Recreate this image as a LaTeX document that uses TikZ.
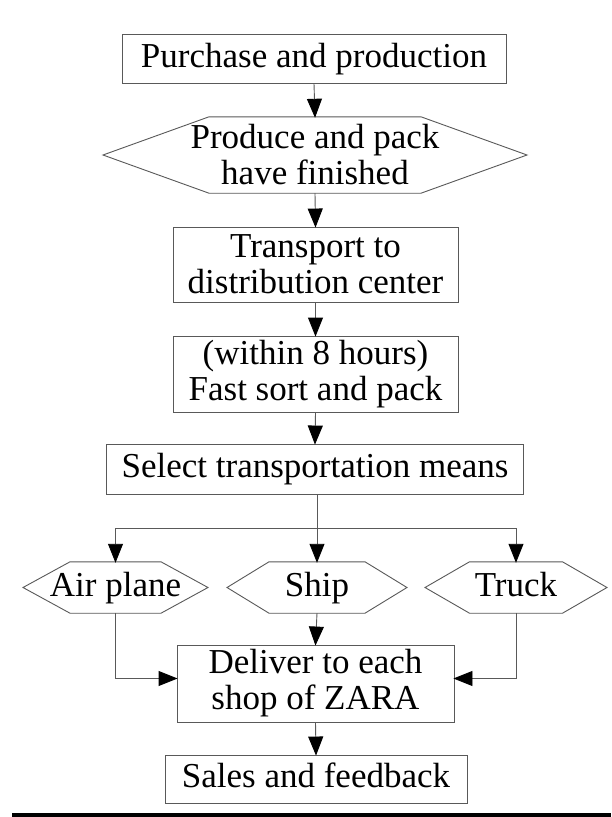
\documentclass[tikz,border=0pt]{standalone}
\usepackage{fontspec}
\setmainfont{Liberation Serif}
\usetikzlibrary{arrows.meta}
\tikzset{
  every node/.style={font=\fontsize{35}{36}\selectfont, text=black, inner sep=0pt},
  boxnode/.style={draw=black!65, line width=0.9pt, align=center},
  oneline/.style={text height=24pt, text depth=7pt},
  hexcore/.style={align=center},
  conn/.style={draw=black!65, line width=0.9pt},
  arr/.style={conn, -{Triangle[width=15pt,length=19pt,color=black,fill=black]}, shorten >=-1pt},
}
% #1 node, #2 half width of flat top edge, #3 distance from centre to side point
\newcommand{\hexdraw}[3]{%
  \draw[conn] ([xshift=-#2]#1.north) -- ([xshift=#2]#1.north) -- ([xshift=#3]#1.center)
    -- ([xshift=#2]#1.south) -- ([xshift=-#2]#1.south) -- ([xshift=-#3]#1.center) -- cycle;}
\begin{document}
\begin{tikzpicture}[x=1pt,y=-1pt]
\useasboundingbox (0,0) rectangle (611,817);
\fill[white] (0,0) rectangle (611,817);

\node[boxnode, oneline, minimum width=384, minimum height=49] (b1) at (314,58.5) {Purchase and production};
\node[hexcore, minimum height=76] (h1) at (315,155) {Produce and pack\\have finished};
\hexdraw{h1}{106}{212}
\node[boxnode, minimum width=285, minimum height=75] (b2) at (315.5,264.5) {Transport to\\distribution center};
\node[boxnode, minimum width=285, minimum height=76] (b3) at (315.5,374) {(within 8 hours)\\Fast sort and pack};
\node[boxnode, oneline, minimum width=417, minimum height=50] (b4) at (315,469) {Select transportation means};

\node[hexcore, oneline, minimum height=51] (hA) at (115.5,587.5) {Air plane};
\hexdraw{hA}{45.5}{92.5}
\node[hexcore, oneline, minimum height=51] (hS) at (317,587.5) {Ship};
\hexdraw{hS}{48}{90}
\node[hexcore, oneline, minimum height=51] (hT) at (516,587.5) {Truck};
\hexdraw{hT}{46.5}{91}

\node[boxnode, minimum width=277, minimum height=77] (b5) at (315.5,683.5) {Deliver to each\\shop of ZARA};
\node[boxnode, oneline, minimum width=302, minimum height=48] (b6) at (316,779) {Sales and feedback};

\coordinate (j) at (317,528);

\draw[arr] (b1.south) -- (h1.north);
\draw[arr] (h1.south) -- (b2.north);
\draw[arr] (b2.south) -- (b3.north);
\draw[arr] (b3.south) -- (b4.north);
\draw[arr] (b4.south -| hS.north) -- (hS.north);
\draw[arr] (j) -| (hA.north);
\draw[arr] (j) -| (hT.north);
\draw[arr] (hA.south) |- ([yshift=5pt]b5.west);
\draw[arr] (hT.south) |- ([yshift=5pt]b5.east);
\draw[arr] (hS.south) -- (b5.north);
\draw[arr] (b5.south) -- (b6.north);

\coordinate (l1) at (12,815);
\coordinate (l2) at (611,815);
\draw[line width=4pt, black] (l1) -- (l2);
\end{tikzpicture}
\end{document}
